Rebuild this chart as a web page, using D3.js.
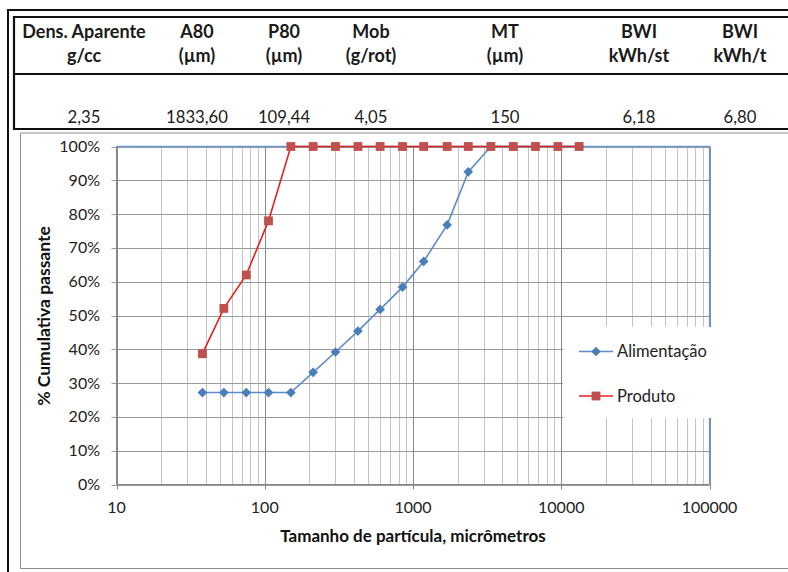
<!DOCTYPE html>
<html>
<head>
<meta charset="utf-8">
<script src="https://cdn.jsdelivr.net/npm/d3@7"></script>
<style>
  body { margin: 0; background: #fff; }
  svg { display: block; font-family: Lato, "Open Sans", sans-serif; }
</style>
</head>
<body>
<div id="chart"></div>
<script>
// Table contents
const headTop = ['Dens. Aparente', 'A80', 'P80', 'Mob', 'MT', 'BWI', 'BWI'];
const headUnit = ['g/cc', '(µm)', '(µm)', '(g/rot)', '(µm)', 'kWh/st', 'kWh/t'];
const tableValues = ['2,35', '1833,60', '109,44', '4,05', '150', '6,18', '6,80'];

// Sieve sizes (µm) and cumulative passing (%)
const sizes = [38, 53, 75, 106, 150, 212, 300, 425, 600, 850, 1180, 1700, 2360, 3350, 4750, 6700, 9500, 13200];
const alimentacao = [27.2, 27.2, 27.2, 27.2, 27.2, 33.2, 39.2, 45.4, 51.8, 58.4, 66.0, 76.8, 92.5, 100, 100, 100, 100, 100];
const produto = [38.7, 52.1, 62.0, 78.0, 100, 100, 100, 100, 100, 100, 100, 100, 100, 100, 100, 100, 100, 100];

const xTicks = [10, 100, 1000, 10000, 100000];
const yTicks = [0, 10, 20, 30, 40, 50, 60, 70, 80, 90, 100];

const width = 788, height = 572;
const svg = d3.select('#chart').append('svg')
    .attr('width', width)
    .attr('height', height);

// Outer frame + table box
const ink = '#111';
svg.append('path')
    .attr('d', `M8,${height} V10 H${width}`)
    .attr('fill', 'none').attr('stroke', ink).attr('stroke-width', 2);
svg.append('path')
    .attr('d', `M${width},17 H14 V129 H${width} M14,74 H${width}`)
    .attr('fill', 'none').attr('stroke', ink).attr('stroke-width', 2.2);

const colX = [84, 197, 284, 371, 505, 639, 740];
const table = svg.append('g').attr('fill', '#1a1a1a').attr('text-anchor', 'middle');
table.selectAll('.h1').data(headTop).join('text')
    .attr('x', (d, i) => colX[i]).attr('y', 38).attr('font-weight', 'bold')
    .style('font-size', '18px').text(d => d);
table.selectAll('.h2').data(headUnit).join('text')
    .attr('x', (d, i) => colX[i]).attr('y', 62).attr('font-weight', 'bold')
    .style('font-size', '18px').text(d => d);
table.selectAll('.v').data(tableValues).join('text')
    .attr('x', (d, i) => colX[i]).attr('y', 123)
    .style('font-size', '16.7px').text(d => d);

// Chart area border
svg.append('path')
    .attr('d', `M${width},133 H20.5 V568.5 H${width}`)
    .attr('fill', 'none').attr('stroke', '#8c8c8c').attr('stroke-width', 1);

// Scales
const x = d3.scaleLog().domain([10, 100000]).range([116.5, 709.5]);
const y = d3.scaleLinear().domain([0, 100]).range([484.5, 146.5]);

const plot = svg.append('g');

// Minor vertical gridlines
const minor = [];
for (let dec = 10; dec < 100000; dec *= 10) {
    for (let k = 2; k <= 9; k++) minor.push(dec * k);
}
plot.selectAll('.minor').data(minor).join('line')
    .attr('x1', d => Math.round(x(d)) + 0.5).attr('x2', d => Math.round(x(d)) + 0.5)
    .attr('y1', y(100)).attr('y2', y(0))
    .attr('stroke', '#c4c4c4').attr('stroke-width', 1);

// Horizontal gridlines
plot.selectAll('.hgrid').data(yTicks).join('line')
    .attr('x1', x(10) - 5).attr('x2', x(100000))
    .attr('y1', d => Math.round(y(d)) + 0.5).attr('y2', d => Math.round(y(d)) + 0.5)
    .attr('stroke', '#9a9a9a').attr('stroke-width', 1);

// Major vertical gridlines
plot.selectAll('.major').data(xTicks).join('line')
    .attr('x1', d => Math.round(x(d)) + 0.5).attr('x2', d => Math.round(x(d)) + 0.5)
    .attr('y1', y(100)).attr('y2', y(0) + 5)
    .attr('stroke', '#8a8a8a').attr('stroke-width', 1);

// Axis lines
plot.append('line')
    .attr('x1', x(10)).attr('x2', x(100000)).attr('y1', y(0)).attr('y2', y(0))
    .attr('stroke', '#868686');
plot.append('line')
    .attr('x1', x(10)).attr('x2', x(10)).attr('y1', y(100)).attr('y2', y(0))
    .attr('stroke', '#868686');

// Plot area border (top + right)
plot.append('path')
    .attr('d', `M${x(10)},${y(100)} H${x(100000)} V${y(0)}`)
    .attr('fill', 'none').attr('stroke', '#6f98cf').attr('stroke-width', 1.3);

// Tick labels
const labels = svg.append('g').attr('fill', '#222').style('font-size', '16px');
labels.selectAll('.yl').data(yTicks).join('text')
    .attr('x', 100).attr('y', d => y(d) + 5.5)
    .attr('text-anchor', 'end').text(d => d + '%');
labels.selectAll('.xl').data(xTicks).join('text')
    .attr('x', d => x(d)).attr('y', 513)
    .attr('text-anchor', 'middle').text(d => d);

// Axis titles
svg.append('text')
    .attr('x', 413).attr('y', 541.5)
    .attr('text-anchor', 'middle').attr('font-weight', 'bold')
    .style('font-size', '17px').attr('fill', '#111')
    .text('Tamanho de partícula, micrômetros');
svg.append('text')
    .attr('transform', 'translate(50,316) rotate(-90)')
    .attr('text-anchor', 'middle').attr('font-weight', 'bold')
    .style('font-size', '17.5px').attr('fill', '#111')
    .text('% Cumulativa passante');

// Series
const blueLine = '#5b8ccb', blueMark = '#4a7ebb';
const redLine = '#e0231f', redMark = '#c0504d';
const line = d3.line().x(d => x(d[0])).y(d => y(d[1]));
const diamond = d3.symbol().type(d3.symbolDiamond2).size(60);
const square = d3.symbol().type(d3.symbolSquare).size(78);

const aData = sizes.map((s, i) => [s, alimentacao[i]]);
const pData = sizes.map((s, i) => [s, produto[i]]);

plot.append('path').datum(aData).attr('d', line)
    .attr('fill', 'none').attr('stroke', blueLine).attr('stroke-width', 1.6);
plot.selectAll('.am').data(aData).join('path')
    .attr('transform', d => `translate(${x(d[0])},${y(d[1])})`)
    .attr('d', diamond).attr('fill', blueMark);

plot.append('path').datum(pData).attr('d', line)
    .attr('fill', 'none').attr('stroke', redLine).attr('stroke-width', 1.6);
plot.selectAll('.pm').data(pData).join('path')
    .attr('transform', d => `translate(${x(d[0])},${y(d[1])})`)
    .attr('d', square).attr('fill', redMark);

// Legend
const legend = svg.append('g');
legend.append('rect')
    .attr('x', 563).attr('y', 327).attr('width', 154).attr('height', 91)
    .attr('fill', '#fff');
const legendItems = [
    { name: 'Alimentação', line: blueLine, mark: blueMark, sym: diamond },
    { name: 'Produto', line: redLine, mark: redMark, sym: square }
];
const li = legend.selectAll('.li').data(legendItems).join('g')
    .attr('transform', (d, i) => `translate(579,${351.5 + i * 44.5})`);
li.append('line').attr('x1', 0).attr('x2', 34)
    .attr('stroke', d => d.line).attr('stroke-width', 1.6);
li.append('path').attr('transform', 'translate(17,0)')
    .attr('d', d => d.sym()).attr('fill', d => d.mark);
li.append('text').attr('x', 38).attr('y', 5.5)
    .style('font-size', '16.5px').attr('fill', '#222')
    .text(d => d.name);
</script>
</body>
</html>
